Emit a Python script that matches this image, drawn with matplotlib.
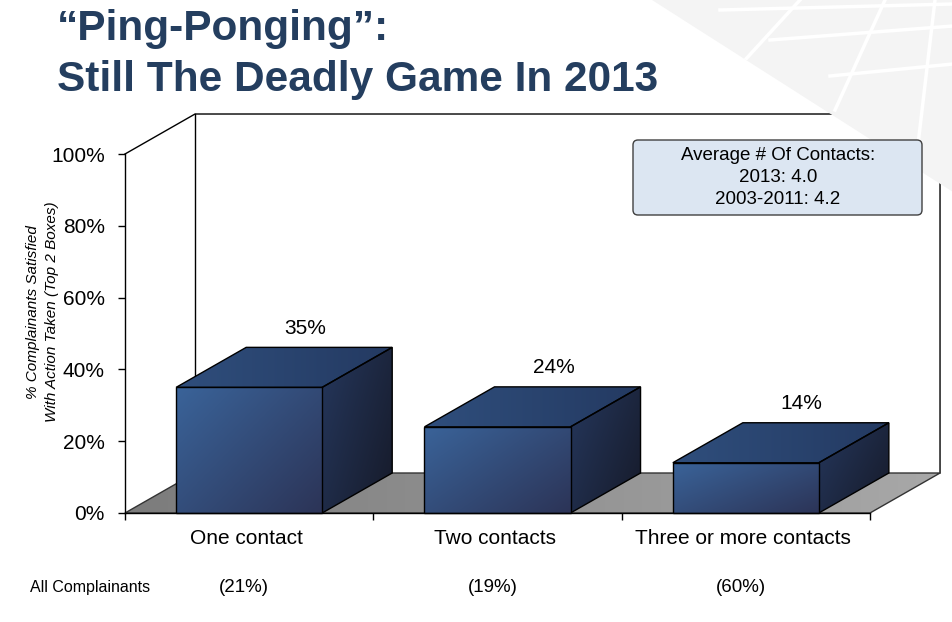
import numpy as np
import matplotlib
matplotlib.use("Agg")
import matplotlib.pyplot as plt
from matplotlib.patches import Polygon, FancyBboxPatch
from matplotlib.colors import LinearSegmentedColormap
from matplotlib.transforms import Affine2D

plt.rcParams['font.family'] = ['Liberation Sans', 'DejaVu Sans']

# data
categories = ['One contact', 'Two contacts', 'Three or more contacts']
satisfied = [35, 24, 14]
share_labels = ['(21%)', '(19%)', '(60%)']
yticks = [0, 20, 40, 60, 80, 100]
box_lines = ['Average # Of Contacts:', '2013: 4.0', '2003-2011: 4.2']

W, H = 953, 622
fig = plt.figure(figsize=(W / 100, H / 100), dpi=100)
# pixel transform, origin top-left
pix = Affine2D().scale(1, -1).translate(0, H).scale(1 / W, 1 / H) + fig.transFigure

# faint background decoration top right
deco = Polygon([(652, 0), (W, 0), (W, 192)], closed=True,
               fc='#f4f4f4', ec='none', transform=pix, zorder=0)
fig.patches.append(deco)
for (x0, y0, x1, y1) in [(720, 10, W, 4), (770, 40, W, 26), (830, 76, W, 64),
                         (885, 0, 835, 110), (800, 0, 745, 60), (935, 0, 915, 170)]:
    ln = plt.Line2D([x0, x1], [y0, y1], color='white', lw=2.5, transform=pix, zorder=0.5)
    fig.add_artist(ln)
    ln.set_clip_path(deco)

ax = fig.add_axes([125 / W, 109 / H, 745 / W, 359 / H])
ax.set_facecolor('none')
DX, DY = 0.282, 11.14   # depth offset in data units
half = 0.294


def grad_poly(pts, c1, c2, angle, z):
    pts = np.array(pts, dtype=float)
    poly = Polygon(pts, closed=True, fc='none', ec='black', lw=1.0, zorder=z + 0.5, clip_on=False)
    ax.add_patch(poly)
    x0, x1 = pts[:, 0].min(), pts[:, 0].max()
    y0, y1 = pts[:, 1].min(), pts[:, 1].max()
    u = np.linspace(0, 1, 64)
    U, V = np.meshgrid(u, u[::-1])
    t = np.cos(angle) * U + np.sin(angle) * (1 - V)
    t = (t - t.min()) / (t.max() - t.min() + 1e-9)
    cmap = LinearSegmentedColormap.from_list('g', [c1, c2])
    im = ax.imshow(t, cmap=cmap, extent=(x0, x1, y0, y1), aspect='auto',
                   interpolation='bilinear', zorder=z)
    im.set_clip_box(fig.bbox)
    im.set_clip_path(Polygon(pts, closed=True, transform=ax.transData))
    return poly


# floor
floor = [(0, 0), (3, 0), (3 + DX, DY), (DX, DY)]
fp = grad_poly(floor, '#7c7c7c', '#a8a8a8', 0.0, 1)
fp.set_edgecolor('#333333')

# walls
kw = dict(color='black', lw=1.0, clip_on=False, zorder=0.8)
ax.plot([0, DX, 3 + DX, 3 + DX], [100, 100 + DY, 100 + DY, DY], **kw)
ax.plot([DX, DX], [100 + DY, DY], **kw)

# bars
for i, v in enumerate(satisfied):
    c = i + 0.5
    l, r = c - half, c + half
    front = [(l, 0), (r, 0), (r, v), (l, v)]
    top = [(l, v), (r, v), (r + DX, v + DY), (l + DX, v + DY)]
    side = [(r, 0), (r + DX, DY), (r + DX, v + DY), (r, v)]
    grad_poly(side, '#25375c', '#161a29', 0.6, 3)
    grad_poly(top, '#2f4e7c', '#243a62', 0.0, 3)
    grad_poly(front, '#3a6399', '#2c3457', 0.7, 4)
    ax.text(c + 0.225, v + 16.5, f'{v}%', ha='center', va='center', fontsize=15)
    ax.text(c - 0.01, -7, categories[i], ha='center', va='center', fontsize=15)
    ax.text(c - 0.02, -20.8, share_labels[i], ha='center', va='center', fontsize=13.5)

ax.text(-0.383, -20.8, 'All Complainants', ha='left', va='center', fontsize=11.5)

ax.set_xlim(0, 3)
ax.set_ylim(0, 100)
ax.set_xticks([0, 1, 2, 3])
ax.set_xticklabels([])
ax.set_yticks(yticks)
ax.set_yticklabels([f'{t}%' for t in yticks])
ax.tick_params(axis='y', length=5, width=1, pad=9.5, labelsize=15)
ax.tick_params(axis='x', length=5, width=1)
for s in ['top', 'right']:
    ax.spines[s].set_visible(False)
for s in ['left', 'bottom']:
    ax.spines[s].set_linewidth(1.0)
    ax.spines[s].set_zorder(6)

ax.set_ylabel('% Complainants Satisfied\nWith Action Taken (Top 2 Boxes)',
              fontsize=11, style='italic', linespacing=1.4)
ax.yaxis.set_label_coords(-0.089, 0.56)

# title
title_col = '#243e5f'
fig.text(57, 40, '\u201cPing-Ponging\u201d:', transform=pix, fontsize=30.5,
         fontweight='bold', color=title_col, ha='left', va='baseline')
fig.text(57, 91, 'Still The Deadly Game In 2013', transform=pix, fontsize=30.5,
         fontweight='bold', color=title_col, ha='left', va='baseline')

# annotation box
fig.patches.append(FancyBboxPatch((633, 140), 289, 75,
                                  boxstyle='round,pad=0,rounding_size=5',
                                  fc='#dce6f2', ec='#404040', lw=1.0, transform=pix, zorder=5))
for j, line in enumerate(box_lines):
    fig.text(778, 156 + 22 * j, line, transform=pix, ha='center', va='center',
             fontsize=13.5, zorder=6)

fig.savefig('out.png', dpi=100)
